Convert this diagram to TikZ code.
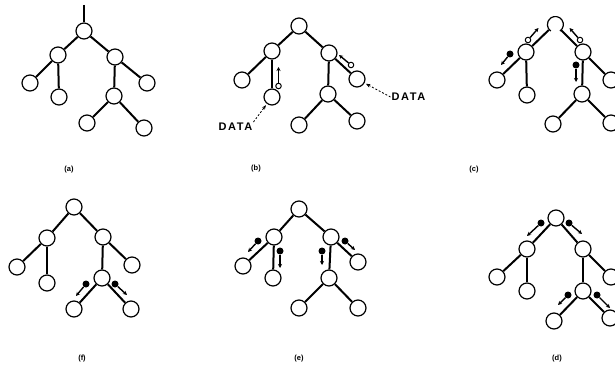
\documentclass[tikz,border=0pt]{standalone}
\usepackage{fontspec}
\setmainfont{Liberation Sans}
\newfontfamily\datafont[LetterSpace=14]{Liberation Sans}
\usetikzlibrary{arrows.meta}
\tikzset{
  tnode/.style={circle,draw,line width=1.2pt,minimum size=16pt,inner sep=0pt},
  tedge/.style={line width=2pt},
  tokopen/.style={circle,draw,line width=1pt,minimum size=5.5pt,inner sep=0pt},
  tokfill/.style={circle,fill,minimum size=7pt,inner sep=0pt},
  tokarrow/.style={line width=1.4pt,-{Stealth[length=4pt,width=4pt]}},
  leader/.style={line width=0.8pt,dash pattern=on 2pt off 1.8pt,-{Stealth[length=4.5pt,width=3.5pt]},shorten >=1.5pt},
  sublabel/.style={font=\fontsize{7.5}{8}\selectfont\bfseries},
  datalbl/.style={font=\fontsize{11}{12}\selectfont\datafont\bfseries,inner sep=1pt}
}
\newcommand\tn[2]{\node[tnode] (#1) at (#2) {};}
\newcommand\te[1]{\foreach \u/\v in {T/L,T/R,L/A,L/B,R/C,R/D,D/E,D/F} \draw[tedge] (#1\u) -- (#1\v);}
\begin{document}
\begin{tikzpicture}[x=1pt,y=-1pt]
\useasboundingbox (0,0) rectangle (615,366);
% (a)
\tn{aT}{84,31}\tn{aL}{58,55}\tn{aR}{115,57}\tn{aA}{30,83}\tn{aB}{59,97}
\tn{aC}{147,83}\tn{aD}{114,96}\tn{aE}{87,123}\tn{aF}{144,128}
\te{a}
\coordinate (stem) at (84,5);
\draw[tedge] (stem) -- (aT);
\node[sublabel] (capa) at (69,170) {(a)};
% (b)
\tn{bT}{299,26}\tn{bL}{272,51}\tn{bR}{329,53}\tn{bA}{242,80}\tn{bB}{272,97}
\tn{bC}{357,79}\tn{bD}{328,94}\tn{bE}{299,125}\tn{bF}{357,121}
\te{b}
\node[tokopen] (b1) at (278.5,86) {};
\coordinate (b1t) at (278.5,67);
\draw[tokarrow] (b1) -- (b1t);
\node[tokopen] (b2) at (351,65) {};
\coordinate (b2t) at (339,55);
\draw[tokarrow] (b2) -- (b2t);
\node[datalbl] (d1) at (235.5,127) {DATA};
\draw[leader] (d1.north east) -- (bB);
\node[datalbl] (d2) at (408.5,97) {DATA};
\draw[leader] (d2.west) -- (bC);
\node[sublabel] (capb) at (256,169) {(b)};
% (c)
\node[tnode,draw=none] (cT) at (555,24) {};
\draw[line width=1.2pt] (cT.-55) arc[start angle=-55,end angle=235,radius=8pt];
\tn{cL}{526,52}\tn{cR}{583,52}\tn{cA}{497,80}\tn{cB}{527,95}
\tn{cC}{611,80}\tn{cD}{582,94}\tn{cE}{553,124}\tn{cF}{611,123}
\te{c}
\node[tokopen] (c1) at (528,40) {};
\coordinate (c1t) at (538.5,28);
\draw[tokarrow] (c1) -- (c1t);
\node[tokopen] (c2) at (580,40) {};
\coordinate (c2t) at (569.5,28);
\draw[tokarrow] (c2) -- (c2t);
\node[tokfill] (c3) at (510,54) {};
\coordinate (c3t) at (501,65);
\draw[tokarrow] (c3) -- (c3t);
\node[tokfill] (c4) at (576,65) {};
\coordinate (c4t) at (576,82);
\draw[tokarrow] (c4) -- (c4t);
\node[sublabel] (capc) at (474,170) {(c)};
% (f)
\tn{fT}{74,207}\tn{fL}{47,238}\tn{fR}{103,237}\tn{fA}{17,267}\tn{fB}{47,283}
\tn{fC}{132,265}\tn{fD}{102,278}\tn{fE}{74,309}\tn{fF}{131,309}
\te{f}
\node[tokfill] (f1) at (86,284) {};
\coordinate (f1t) at (76,296);
\draw[tokarrow] (f1) -- (f1t);
\node[tokfill] (f2) at (115,284) {};
\coordinate (f2t) at (127,295);
\draw[tokarrow] (f2) -- (f2t);
\node[sublabel] (capf) at (82,359) {(f)};
% (e)
\tn{eT}{299,209}\tn{eL}{274,237}\tn{eR}{331,237}\tn{eA}{243,266}\tn{eB}{273,278}
\tn{eC}{358,262}\tn{eD}{329,278}\tn{eE}{299,308}\tn{eF}{358,308}
\te{e}
\node[tokfill] (e1) at (258,241) {};
\coordinate (e1t) at (248,252);
\draw[tokarrow] (e1) -- (e1t);
\node[tokfill] (e2) at (280,251) {};
\coordinate (e2t) at (280,268);
\draw[tokarrow] (e2) -- (e2t);
\node[tokfill] (e3) at (322,251) {};
\coordinate (e3t) at (322,265);
\draw[tokarrow] (e3) -- (e3t);
\node[tokfill] (e4) at (345,241) {};
\coordinate (e4t) at (355,250);
\draw[tokarrow] (e4) -- (e4t);
\node[sublabel] (cape) at (299,359) {(e)};
% (d)
\tn{dT}{556,218}\tn{dL}{527,249}\tn{dR}{583,249}\tn{dA}{497,277}\tn{dB}{527,291}
\tn{dC}{611,277}\tn{dD}{583,291}\tn{dE}{554,321}\tn{dF}{610,318}
\te{d}
\node[tokfill] (g1) at (541,223) {};
\coordinate (g1t) at (527,236);
\draw[tokarrow] (g1) -- (g1t);
\node[tokfill] (g2) at (569,223) {};
\coordinate (g2t) at (582,234);
\draw[tokarrow] (g2) -- (g2t);
\node[tokfill] (g3) at (568,295) {};
\coordinate (g3t) at (558,305);
\draw[tokarrow] (g3) -- (g3t);
\node[tokfill] (g4) at (597,295) {};
\coordinate (g4t) at (610,308);
\draw[tokarrow] (g4) -- (g4t);
\node[sublabel] (capd) at (557,359) {(d)};
\end{tikzpicture}
\end{document}
